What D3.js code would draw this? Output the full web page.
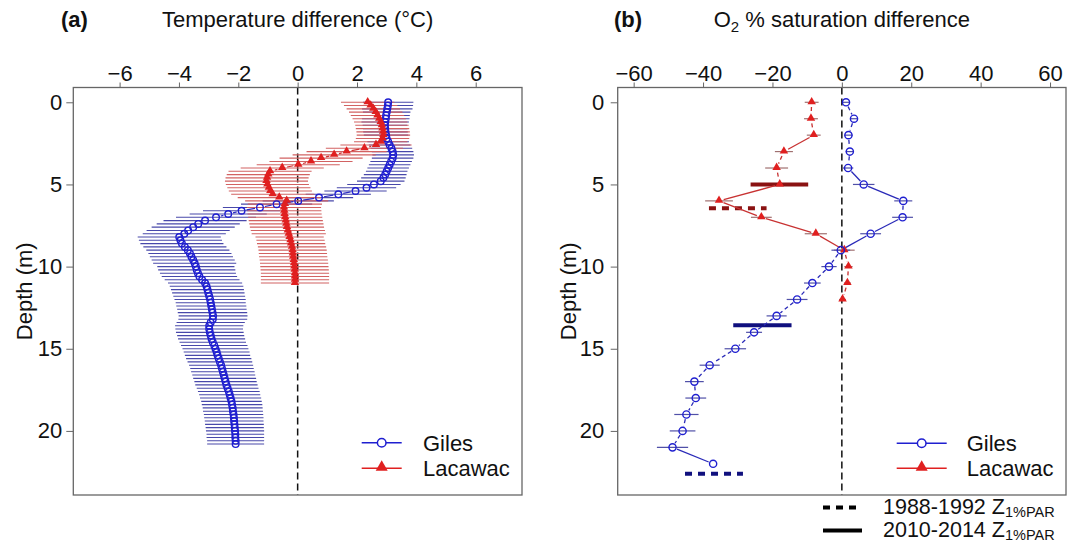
<!DOCTYPE html>
<html><head><meta charset="utf-8">
<script src="https://cdn.jsdelivr.net/npm/d3@7"></script>
<style>
body{margin:0;background:#fff}
svg{display:block}
text{font-family:"Liberation Sans",Arial,sans-serif;fill:#111}
</style>
</head><body>
<svg id="c" width="1077" height="545"></svg>
<script>
// ---------- DATA ----------
const tempTicks = [-6, -4, -2, 0, 2, 4, 6];
const o2Ticks = [-60, -40, -20, 0, 20, 40, 60];
const depthTicks = [0, 5, 10, 15, 20];
const lakes = ["Giles", "Lacawac"];

// Panel (a): temperature difference profiles (depth in m)
const tempDepths = [0,0.2,0.4,0.6,0.8,1,1.2,1.4,1.6,1.8,2,2.2,2.4,2.6,2.8,3,3.2,3.4,3.6,3.8,4,4.2,4.4,4.6,4.8,5,5.2,5.4,5.6,5.8,6,6.2,6.4,6.6,6.8,7,7.2,7.4,7.6,7.8,8,8.2,8.4,8.6,8.8,9,9.2,9.4,9.6,9.8,10,10.2,10.4,10.6,10.8,11,11.2,11.4,11.6,11.8,12,12.2,12.4,12.6,12.8,13,13.2,13.4,13.6,13.8,14,14.2,14.4,14.6,14.8,15,15.2,15.4,15.6,15.8,16,16.2,16.4,16.6,16.8,17,17.2,17.4,17.6,17.8,18,18.2,18.4,18.6,18.8,19,19.2,19.4,19.6,19.8,20,20.2,20.4,20.6,20.8];
const gilesTemp = [3.05,3.04,3.02,3.00,2.98,2.97,2.95,2.94,2.95,2.96,
  2.98,3.00,3.05,3.10,3.16,3.20,3.22,3.20,3.15,3.10,
  3.05,3.00,2.95,2.89,2.80,2.57,2.32,1.95,1.37,0.72,
  0.02,-0.71,-1.27,-1.89,-2.34,-2.75,-3.12,-3.35,-3.52,-3.69,
  -3.82,-3.99,-3.95,-3.90,-3.80,-3.70,-3.63,-3.58,-3.52,-3.47,
  -3.43,-3.40,-3.36,-3.31,-3.22,-3.12,-3.07,-3.04,-3.01,-2.98,
  -2.95,-2.93,-2.91,-2.89,-2.87,-2.85,-2.86,-2.93,-2.98,-2.98,
  -2.96,-2.93,-2.90,-2.86,-2.81,-2.77,-2.73,-2.70,-2.66,-2.62,
  -2.58,-2.55,-2.52,-2.49,-2.46,-2.43,-2.40,-2.36,-2.32,-2.29,
  -2.26,-2.23,-2.21,-2.19,-2.18,-2.16,-2.15,-2.14,-2.13,-2.12,
  -2.11,-2.10,-2.10,-2.09,-2.09];
const gilesTempErr = [0.85,0.85,0.85,0.8,0.8,0.8,0.8,0.75,0.75,0.75,0.75,0.75,0.7,0.7,0.7,0.7,0.7,0.7,0.7,0.7,0.7,0.7,0.72,0.75,0.8,
  0.9,1.0,1.05,1.1,1.15,1.2,
  1.2,1.25,1.3,1.3,1.35,
  1.4,1.4,1.4,1.4,1.4,1.4,1.4,1.4,1.4,1.4,1.4,1.4,1.4,1.4,
  1.3,1.3,1.28,1.27,1.26,1.25,1.24,1.23,1.22,1.21,1.2,
  1.18,1.18,1.17,1.17,1.16,1.16,1.15,1.15,1.14,1.14,1.13,1.13,1.12,1.12,1.11,1.11,1.1,1.1,1.09,1.08,
  1.07,1.07,1.06,1.06,1.05,1.05,1.04,1.04,1.03,1.03,1.02,1.02,1.01,1.01,1.0,1.0,0.99,0.99,0.98,0.98,0.97,0.97,0.96,0.96];
const lacawacTemp = [2.36,2.46,2.55,2.63,2.69,2.75,2.80,2.84,2.86,2.88,
  2.89,2.86,2.80,2.64,2.25,1.65,1.23,0.79,0.45,0.02,
  -0.52,-0.93,-0.99,-1.03,-1.05,-1.02,-0.97,-0.92,-0.84,-0.62,
  -0.37,-0.43,-0.46,-0.45,-0.44,-0.42,-0.40,-0.38,-0.36,-0.33,
  -0.30,-0.27,-0.24,-0.22,-0.19,-0.17,-0.16,-0.15,-0.13,-0.12,
  -0.11,-0.10,-0.09,-0.09,-0.09,-0.09];
const lacawacTempErr = [0.9,0.9,0.9,0.9,0.9,0.9,0.9,0.9,0.9,0.9,0.9,0.9,0.9,
  1.2,1.3,1.35,1.4,1.4,1.4,1.4,1.4,1.4,
  1.4,1.4,1.4,1.4,1.4,1.4,1.4,1.4,1.4,
  1.25,1.25,1.25,1.25,1.25,1.25,1.25,1.25,1.25,1.25,
  1.15,1.15,1.15,1.15,1.15,1.15,1.15,1.15,1.15,1.15,1.15,1.15,1.15,1.15,1.15];

// Panel (b): O2 % saturation difference profiles
const gilesO2Depths = [0,1,2,3,4,5,6,7,8,9,10,11,12,13,14,15,16,17,18,19,20,21,22];
const gilesO2 = [1.2,3.5,1.9,2.3,1.8,6.3,17.7,17.5,8.3,-0.3,-3.7,-8.5,-12.9,-18.8,-25.3,-30.7,-38.1,-42.5,-42.1,-44.8,-45.9,-48.8,-37.1];
const gilesO2Err = [1,1,1.2,1.2,1.5,3.1,2.6,3,3,2.7,2.2,2.4,3,2.9,2.3,3.1,2.9,2.7,3,3.5,3.7,4.5,0];
// whether the change between consecutive depths is significant (solid segment)
const gilesO2SegSig = [false,false,false,false,true,true,false,true,true,false,false,false,false,false,false,false,false,false,false,false,false,true];
const lacawacO2Depths = [0,1,2,3,4,5,6,7,8,9,10,11,12];
const lacawacO2 = [-8.7,-8.9,-8.1,-16.7,-18.8,-17.9,-35.4,-23.2,-7.5,0.7,1.9,1.6,0.2];
const lacawacO2Err = [2,2,2,2.6,3.3,3,4,3,3.2,3,1.2,1,1];
const lacawacO2SegSig = [false,false,true,false,false,true,true,true,true,false,false,false];

// Z1%PAR depth of 1% light
const zLake = ["Lacawac", "Lacawac", "Giles", "Giles"];
const zPeriod = ["2010-2014", "1988-1992", "2010-2014", "1988-1992"];
const zDepth = [5.0, 6.45, 13.57, 22.6];
const zFrom = [-26.3, -38.3, -31.3, -45.2];
const zTo = [-9.7, -21.7, -14.5, -28.5];
const periods = ["1988-1992", "2010-2014"];

// ---------- DRAWING ----------
const svg = d3.select("#c");
const Y0 = 87.5, Y1 = 495;
const y = d3.scaleLinear().domain([-0.9, 23.9]).range([Y0, Y1]);
const xa = d3.scaleLinear().domain([-7.56, 7.56]).range([73.3, 522]);
const xb = d3.scaleLinear().domain([-64.6, 64.6]).range([617.7, 1066]);

const BLUE = "#1f1fd0", RED = "#e02020";
const FS = 22;
const fmt = v => (v < 0 ? "\u2212" + Math.abs(v) : "" + v);
const tri = s => d3.symbol(d3.symbolTriangle, Math.sqrt(3) / 4 * s * s)();

function frame(x, ticks, yTickPad, ylabX) {
  const [L, R] = x.range();
  const ax = svg.append("g").attr("transform", `translate(0,${Y0})`)
    .call(d3.axisTop(x).tickValues(ticks).tickSize(5).tickPadding(2).tickFormat(fmt));
  ax.select(".domain").remove();
  ax.selectAll("line").attr("stroke", "#666");
  ax.selectAll("text").attr("font-size", FS).attr("fill", "#111");
  ax.attr("font-family", null);
  const ay = svg.append("g").attr("transform", `translate(${L},0)`)
    .call(d3.axisLeft(y).tickValues(depthTicks).tickSize(7).tickPadding(yTickPad));
  ay.select(".domain").remove();
  ay.selectAll("line").attr("stroke", "#666");
  ay.selectAll("text").attr("font-size", FS).attr("fill", "#111");
  ay.attr("font-family", null);
  svg.append("text").attr("transform", `translate(${ylabX},${(Y0 + Y1) / 2}) rotate(-90)`)
    .attr("text-anchor", "middle").attr("font-size", FS).text("Depth (m)");
  // zero reference line
  svg.append("line").attr("x1", x(0)).attr("x2", x(0)).attr("y1", Y0).attr("y2", Y1)
    .attr("stroke", "#111").attr("stroke-width", 1.5).attr("stroke-dasharray", "7,4");
}

function box(x) {
  const [L, R] = x.range();
  svg.append("rect").attr("x", L).attr("y", Y0).attr("width", R - L).attr("height", Y1 - Y0)
    .attr("fill", "none").attr("stroke", "#666").attr("stroke-width", 1.3);
}

function errBars(g, x, depths, vals, errs, color, w) {
  g.selectAll(null).data(vals).enter().append("line")
    .attr("x1", (v, i) => x(v - errs[i])).attr("x2", (v, i) => x(v + errs[i]))
    .attr("y1", (v, i) => y(depths[i])).attr("y2", (v, i) => y(depths[i]))
    .attr("stroke", color).attr("stroke-width", w);
}

function segs(g, x, depths, vals, gap, color, w, sig) {
  for (let i = 0; i < vals.length - 1; i++) {
    const x1 = x(vals[i]), y1 = y(depths[i]), x2 = x(vals[i + 1]), y2 = y(depths[i + 1]);
    const Ln = Math.hypot(x2 - x1, y2 - y1);
    if (Ln <= 2 * gap + 1.5) continue;
    const ux = (x2 - x1) / Ln, uy = (y2 - y1) / Ln;
    const l = g.append("line").attr("x1", x1 + ux * gap).attr("y1", y1 + uy * gap)
      .attr("x2", x2 - ux * gap).attr("y2", y2 - uy * gap)
      .attr("stroke", color).attr("stroke-width", w);
    if (sig && !sig[i]) l.attr("stroke-dasharray", "4,3");
  }
}

function circles(g, x, depths, vals, r, color) {
  g.selectAll(null).data(vals).enter().append("circle")
    .attr("cx", v => x(v)).attr("cy", (v, i) => y(depths[i])).attr("r", r)
    .attr("fill", "none").attr("stroke", color).attr("stroke-width", 1.4);
}
function triangles(g, x, depths, vals, s, color) {
  g.selectAll(null).data(vals).enter().append("path")
    .attr("d", tri(s)).attr("transform", (v, i) => `translate(${x(v)},${y(depths[i]) - 0.5})`)
    .attr("fill", color);
}

function legend(x0, x1, xt, yG, yL) {
  const xm = (x0 + x1) / 2;
  [[yG, BLUE, "Giles"], [yL, RED, "Lacawac"]].forEach(([yy, c, name], k) => {
    svg.append("line").attr("x1", x0).attr("x2", x1).attr("y1", yy).attr("y2", yy)
      .attr("stroke", c).attr("stroke-width", 1.4);
    if (k === 0) svg.append("circle").attr("cx", xm).attr("cy", yy).attr("r", 4.3)
      .attr("fill", "#fff").attr("stroke", c).attr("stroke-width", 1.5);
    else svg.append("path").attr("d", tri(12)).attr("transform", `translate(${xm},${yy - 1})`).attr("fill", c);
    svg.append("text").attr("x", xt).attr("y", yy + 8).attr("font-size", FS).text(name);
  });
}

// ----- Panel (a)
frame(xa, tempTicks, 4, 31.5);
const ga = svg.append("g");
const NL = lacawacTemp.length;
errBars(ga, xa, tempDepths, gilesTemp, gilesTempErr, "#4848aa", 1.1);
errBars(ga, xa, tempDepths.slice(0, NL), lacawacTemp, lacawacTempErr, "#d26262", 1.1);
segs(ga, xa, tempDepths, gilesTemp, 5, "#2a2ac0", 1.2, null);
segs(ga, xa, tempDepths.slice(0, NL), lacawacTemp, 5, "#d03030", 1.2, null);
circles(ga, xa, tempDepths, gilesTemp, 3.3, BLUE);
triangles(ga, xa, tempDepths.slice(0, NL), lacawacTemp, 8.5, RED);
box(xa);
legend(361.7, 401.7, 423, 442.7, 468.3);
svg.append("text").attr("x", 61).attr("y", 27).attr("font-size", FS).attr("font-weight", "bold").text("(a)");
svg.append("text").attr("x", (xa.range()[0] + xa.range()[1]) / 2).attr("y", 27)
  .attr("text-anchor", "middle").attr("font-size", FS).text("Temperature difference (\u00B0C)");

// ----- Panel (b)
frame(xb, o2Ticks, 6.5, 576);
const gb = svg.append("g");
errBars(gb, xb, lacawacO2Depths, lacawacO2, lacawacO2Err, "#a07070", 1.2);
errBars(gb, xb, gilesO2Depths, gilesO2, gilesO2Err, "#5050a8", 1.2);
// Z1%PAR bars
zLake.forEach((lk, i) => {
  const l = gb.append("line").attr("x1", xb(zFrom[i])).attr("x2", xb(zTo[i]))
    .attr("y1", y(zDepth[i])).attr("y2", y(zDepth[i]))
    .attr("stroke", lk === "Giles" ? "#10107e" : "#8a1212").attr("stroke-width", 4);
  if (zPeriod[i] === periods[0]) l.attr("stroke-dasharray", "7,6");
});
segs(gb, xb, lacawacO2Depths, lacawacO2, 4.8, "#c83232", 1.3, lacawacO2SegSig);
segs(gb, xb, gilesO2Depths, gilesO2, 4.8, "#2a2ab8", 1.3, gilesO2SegSig);
triangles(gb, xb, lacawacO2Depths, lacawacO2, 8.5, RED);
circles(gb, xb, gilesO2Depths, gilesO2, 3.6, BLUE);
box(xb);
legend(896.7, 946.7, 966.7, 443.3, 468.3);
svg.append("text").attr("x", 614).attr("y", 27).attr("font-size", FS).attr("font-weight", "bold").text("(b)");
const tb = svg.append("text").attr("x", (xb.range()[0] + xb.range()[1]) / 2).attr("y", 27)
  .attr("text-anchor", "middle").attr("font-size", FS);
tb.append("tspan").text("O");
tb.append("tspan").attr("font-size", 15).attr("dy", 5).text("2");
tb.append("tspan").attr("dy", -5).text(" % saturation difference");

// bottom legend for Z1%PAR
[[periods[0], 507.5, "7,6"], [periods[1], 530.5, null]].forEach(([p, yy, dash]) => {
  const l = svg.append("line").attr("x1", 823).attr("x2", dash ? 856 : 862).attr("y1", yy).attr("y2", yy)
    .attr("stroke", "#000").attr("stroke-width", 4);
  if (dash) l.attr("stroke-dasharray", dash);
  const t = svg.append("text").attr("x", 883).attr("y", yy + 6).attr("font-size", 21.5);
  t.append("tspan").text(p + " Z");
  t.append("tspan").attr("font-size", 14.5).attr("dy", 3).text("1%PAR");
});
</script>
</body></html>
